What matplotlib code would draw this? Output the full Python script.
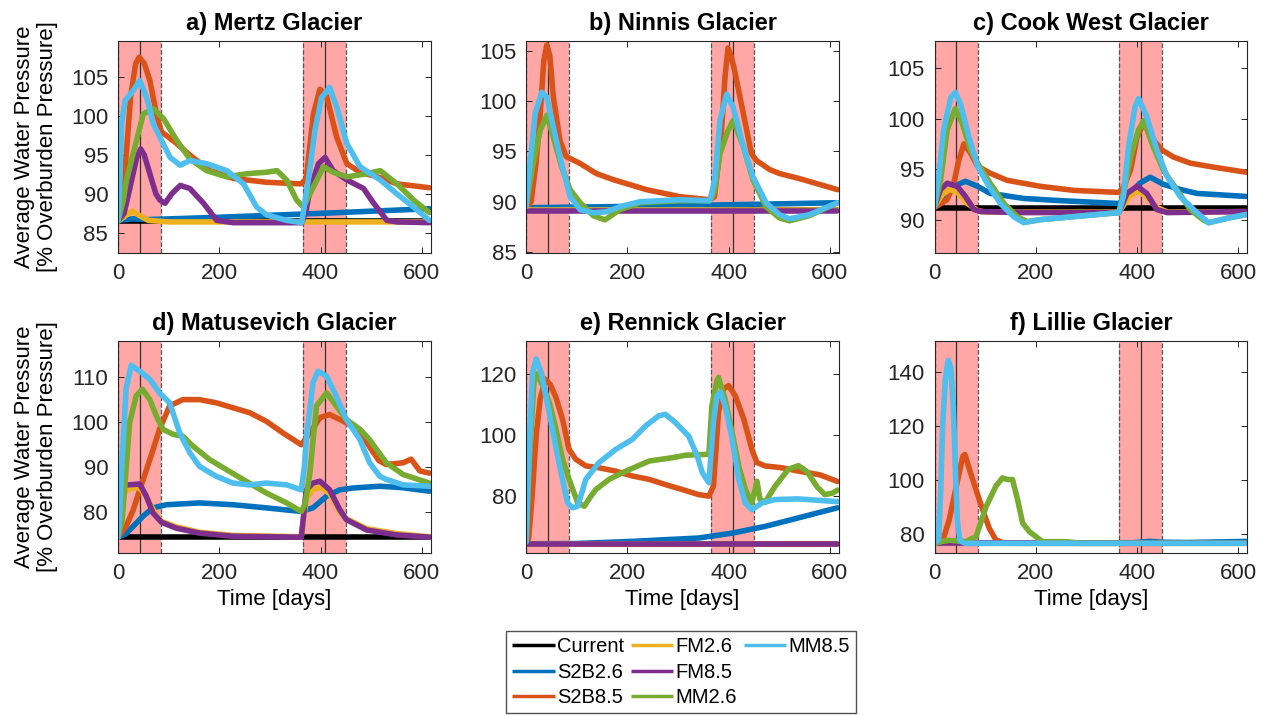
import matplotlib
matplotlib.use('Agg')
import matplotlib.pyplot as plt
from matplotlib.lines import Line2D

plt.rcParams['font.family'] = ['Liberation Sans', 'DejaVu Sans']

# ---------------------------------------------------------------
# Scenario names / colours (legend order)
# ---------------------------------------------------------------
scenarios = ['Current', 'S2B2.6', 'S2B8.5', 'FM2.6', 'FM8.5', 'MM2.6', 'MM8.5']
colors = ['#000000', '#0072BD', '#D95319', '#EDB120', '#7E2F8E', '#77AC30', '#4DBEEE']

# melt seasons (days) and their mid points
seasons = [(0, 85), (365, 450)]
season_mid = [43, 408]

# ---------------------------------------------------------------
# a) Mertz  -- (day, % overburden)
# ---------------------------------------------------------------
mertz_current = [(0, 86.5), (615, 86.5)]
mertz_s2b26 = [(0, 86.6), (30, 86.8), (60, 86.7), (200, 87.0), (400, 87.5), (615, 88.1)]
mertz_s2b85 = [(0, 86.5), (8, 88), (15, 94), (25, 102.5), (35, 106.8), (42, 107.6), (52, 106.8),
               (63, 104.6), (76, 100.3), (86, 98), (100, 97.3), (116, 96.5), (142, 95), (182, 93),
               (228, 92), (294, 91.5), (362, 91.3), (372, 92), (386, 100.3), (399, 103.5),
               (412, 102.6), (432, 97.3), (452, 93.9), (478, 92.8), (518, 92.1), (551, 91.3),
               (615, 90.8)]
mertz_fm26 = [(0, 86.5), (15, 87.2), (28, 87.8), (40, 87.3), (60, 86.6), (100, 86.4), (615, 86.4)]
mertz_fm85 = [(0, 86.5), (12, 87.5), (24, 90.9), (37, 94.7), (45, 95.8), (52, 95), (63, 92.6),
              (75, 90), (83, 89.2), (93, 88.8), (106, 90), (123, 91.1), (142, 90.7), (169, 88.8),
              (195, 86.6), (228, 86.3), (363, 86.3), (372, 88), (379, 90.5), (396, 93.9),
              (409, 94.7), (425, 93), (452, 91.8), (485, 90.7), (505, 88.8), (531, 86.6),
              (551, 86.4), (615, 86.3)]
mertz_mm26 = [(0, 86.5), (10, 89), (17, 91.8), (30, 95.2), (50, 100.3), (70, 101), (90, 99.7),
              (116, 96.9), (142, 94.5), (175, 93), (215, 92.2), (254, 92.6), (294, 92.8),
              (314, 93), (333, 91.8), (353, 89.2), (366, 88.3), (386, 90.9), (406, 93.5),
              (425, 92.8), (452, 92.2), (491, 92.6), (518, 93), (551, 91.3), (584, 89.2),
              (615, 87.6)]
mertz_mm85 = [(0, 86.5), (4, 92), (7, 99), (14, 102), (30, 103.3), (43, 104.6), (57, 102.4),
              (70, 99), (86, 96.9), (103, 94.7), (123, 93.7), (142, 94.3), (175, 93.9),
              (215, 93), (248, 91.3), (274, 88.3), (294, 87.3), (333, 86.6), (363, 86.3),
              (376, 91.8), (389, 98.2), (402, 102.4), (418, 103.7), (432, 101.2), (452, 96.5),
              (478, 93.5), (518, 91.8), (551, 90), (584, 88.3), (615, 86.6)]

# ---------------------------------------------------------------
# b) Ninnis
# ---------------------------------------------------------------
ninnis_current = [(0, 89.2), (615, 89.2)]
ninnis_s2b26 = [(0, 89.4), (300, 89.6), (615, 89.9)]
ninnis_s2b85 = [(0, 89.3), (10, 90), (20, 94), (28, 98.8), (35, 104), (41, 105.6), (47, 104.5),
                (54, 100.4), (67, 96.1), (79, 94.5), (87, 94.3), (107, 93.8), (139, 92.8),
                (172, 92.2), (238, 91.2), (304, 90.5), (363, 90.2), (372, 90.5), (380, 94),
                (386, 97.1), (393, 102.5), (399, 105.3), (405, 104.5), (412, 103), (429, 98.8),
                (445, 94.8), (455, 94.1), (481, 93.2), (501, 92.8), (540, 92.3), (615, 91.2)]
ninnis_fm26 = [(0, 89.2), (615, 89.2)]
ninnis_fm85 = [(0, 89.1), (615, 89.1)]
ninnis_mm26 = [(0, 89.5), (14, 93.8), (28, 97.1), (41, 98.6), (54, 96.4), (70, 93.5), (87, 91.2),
               (107, 89.9), (133, 88.6), (156, 88.2), (185, 89.2), (225, 89.9), (304, 90.1),
               (363, 90.1), (372, 91), (383, 94.8), (399, 97.1), (409, 98.1), (429, 95.5),
               (448, 92.2), (474, 89.5), (500, 88.4), (520, 88.1), (559, 88.6), (615, 89.9)]
ninnis_mm85 = [(0, 89.5), (8, 93.8), (18, 98.8), (31, 100.9), (41, 100.4), (54, 97.4), (70, 93.8),
               (87, 90.5), (107, 89.2), (133, 88.9), (159, 89), (185, 89.5), (225, 90),
               (304, 90.2), (363, 90.1), (373, 92.2), (383, 98.1), (396, 100.7), (409, 99.4),
               (429, 95.5), (448, 92.5), (474, 89.9), (501, 88.7), (520, 88.3), (559, 88.7),
               (615, 89.9)]

# ---------------------------------------------------------------
# c) Cook West
# ---------------------------------------------------------------
cook_current = [(0, 91.2), (615, 91.2)]
cook_s2b26 = [(0, 91.3), (22, 92), (38, 93.3), (61, 93.8), (85, 93.3), (110, 92.6), (176, 92.1),
              (242, 91.9), (364, 91.6), (387, 92.6), (405, 93.6), (426, 94.2), (452, 93.5),
              (485, 93), (518, 92.6), (615, 92.3)]
cook_s2b85 = [(0, 91.2), (25, 92), (38, 93.6), (48, 95.9), (58, 97.5), (71, 96.6), (85, 95.3),
              (110, 94.6), (143, 93.9), (209, 93.3), (275, 92.9), (364, 92.7), (373, 93.2),
              (387, 94.9), (400, 98.2), (413, 99.6), (432, 97.9), (449, 96.9), (472, 96.2),
              (505, 95.6), (551, 95.2), (615, 94.7)]
cook_fm26 = [(0, 91.3), (15, 92.5), (30, 93.0), (45, 92.7), (65, 91.6), (85, 90.9), (100, 90.75),
             (364, 90.75), (385, 92.3), (400, 92.8), (415, 92.4), (440, 91.2), (460, 90.75),
             (615, 90.8)]
cook_fm85 = [(0, 91.3), (12, 93), (25, 93.6), (45, 93.3), (61, 92.3), (78, 91), (91, 90.8),
             (176, 90.7), (364, 90.7), (380, 92.6), (400, 93.3), (419, 92.6), (439, 91),
             (459, 90.7), (615, 90.8)]
cook_mm26 = [(0, 91.3), (12, 93.9), (25, 98.9), (41, 101), (55, 99.5), (71, 96.9), (85, 95.6),
             (110, 93.6), (137, 91.6), (163, 90.3), (183, 89.8), (209, 90), (275, 90.3),
             (364, 90.7), (375, 93), (387, 96.2), (403, 98.9), (413, 99.8), (432, 97.2),
             (452, 94.9), (478, 93), (505, 91), (530, 90), (541, 89.7), (584, 90.2), (615, 90.5)]
cook_mm85 = [(0, 91.3), (9, 94.6), (18, 98.9), (32, 102.1), (41, 102.6), (51, 101.5), (68, 98.2),
             (85, 95.3), (104, 93.6), (130, 91.6), (156, 90.3), (176, 89.7), (209, 90),
             (275, 90.3), (364, 90.7), (373, 92.3), (383, 97.2), (396, 101.2), (403, 102),
             (419, 100.2), (439, 96.9), (459, 94.3), (485, 92.3), (518, 90.7), (541, 89.7),
             (584, 90.2), (615, 90.5)]

# ---------------------------------------------------------------
# d) Matusevich
# ---------------------------------------------------------------
matu_current = [(0, 74.5), (615, 74.5)]
matu_s2b26 = [(0, 74.5), (15, 75.2), (30, 76.9), (49, 79.1), (69, 81), (96, 81.7), (161, 82.1),
              (227, 81.7), (293, 81), (362, 80.2), (385, 81), (412, 83.6), (438, 85), (464, 85.4),
              (517, 85.8), (560, 85.5), (615, 84.7)]
matu_s2b85 = [(0, 74.5), (16, 76.9), (30, 80.5), (43, 85), (63, 91.7), (82, 98.4), (102, 103.6),
              (128, 105), (161, 105), (194, 104.3), (227, 103.2), (260, 102.1), (293, 100.2),
              (326, 97.6), (362, 95), (379, 97.6), (399, 101), (418, 101.7), (438, 100.6),
              (464, 99.1), (480, 97.5), (497, 94.5), (515, 91.5), (530, 90.6), (563, 91),
              (579, 91.8), (596, 89.2), (615, 88.7)]
matu_fm26 = [(0, 74.5), (5, 80), (12, 84.5), (25, 85.3), (40, 85.6), (50, 84.5), (63, 82),
             (75, 79.5), (86, 78), (115, 76.8), (161, 75.6), (227, 74.9), (362, 74.6), (372, 83),
             (385, 85), (399, 85.6), (418, 84.2), (438, 80), (451, 78.6), (491, 76.4), (550, 75.3),
             (615, 74.6)]
matu_fm85 = [(0, 74.5), (4, 80), (8, 86), (43, 86.3), (56, 83.6), (69, 79.9), (86, 77.8),
             (115, 76.5), (161, 75.4), (227, 74.7), (362, 74.5), (372, 85), (385, 86.5),
             (399, 86.9), (418, 85), (438, 80.6), (451, 78.4), (491, 76.1), (550, 75), (615, 74.5)]
matu_mm26 = [(0, 74.5), (8, 78), (13, 85), (23, 99.9), (36, 105.8), (48, 107.3), (63, 105),
             (76, 101.3), (89, 98.4), (109, 97.3), (128, 96.9), (148, 94.7), (181, 91.7),
             (214, 89.5), (247, 87.3), (293, 84.3), (333, 82.1), (362, 80.2), (370, 82),
             (379, 88.7), (392, 103.6), (412, 106.5), (431, 103.6), (451, 100.6), (478, 98.4),
             (497, 96.1), (530, 91), (563, 88.4), (615, 86.5)]
matu_mm85 = [(0, 74.5), (4, 80), (7, 88.7), (16, 107.3), (26, 112.6), (43, 111.3), (63, 109.5),
             (82, 106.5), (102, 104.3), (122, 97.6), (142, 93.2), (161, 90.2), (194, 88),
             (227, 86.5), (260, 86.1), (293, 86.5), (333, 86.1), (362, 85), (368, 90), (372, 96.1),
             (385, 108.7), (395, 111.3), (412, 110.2), (431, 105.8), (451, 100.6), (478, 96.1),
             (497, 91), (517, 88), (530, 87.3), (563, 86.1), (615, 85.8)]

# ---------------------------------------------------------------
# e) Rennick
# ---------------------------------------------------------------
renn_current = [(0, 64.4), (615, 64.4)]
renn_s2b26 = [(0, 64.4), (100, 64.5), (210, 65.2), (341, 66.3), (407, 67.9), (472, 70.1),
              (538, 72.9), (615, 76.2)]
renn_s2b85 = [(0, 64.4), (5, 66), (12, 80), (20, 100), (28, 112), (38, 118.3), (48, 116.5),
              (59, 112.3), (72, 105.2), (85, 95.3), (98, 92.1), (118, 89.9), (144, 89.3),
              (177, 88.2), (210, 86.6), (243, 85.5), (275, 83.8), (308, 82.2), (341, 80.5),
              (361, 80), (370, 83.3), (380, 107.4), (390, 115.1), (400, 116.2), (413, 112.9),
              (430, 105.2), (446, 95.3), (456, 91), (472, 89.9), (505, 89.3), (538, 88.2),
              (580, 87), (615, 84.8)]
renn_fm26 = [(0, 64.4), (615, 64.4)]
renn_fm85 = [(0, 64.4), (615, 64.4)]
renn_mm26 = [(0, 65), (7, 93.2), (16, 118.4), (21, 120), (33, 116.2), (46, 110.7), (59, 101.9),
             (72, 92.1), (85, 85.5), (102, 77.8), (115, 76.7), (128, 80), (138, 82.2), (164, 85.5),
             (197, 88.2), (243, 91.5), (289, 92.6), (315, 93.4), (361, 93.7), (367, 109.6),
             (377, 117.8), (380, 118.9), (393, 111.8), (407, 100.8), (420, 89.9), (433, 82.2),
             (446, 77.8), (456, 84.9), (462, 78.9), (472, 78), (492, 83.3), (518, 88.8),
             (538, 90), (555, 88), (575, 83), (590, 80.5), (605, 81), (615, 82)]
renn_mm85 = [(0, 65), (7, 98.6), (13, 120.5), (20, 124.9), (30, 120.5), (43, 109.6), (56, 98.6),
             (69, 87.7), (82, 77.8), (92, 76.2), (102, 76.7), (118, 85.5), (144, 91), (177, 95.3),
             (210, 98.6), (236, 103), (262, 106.3), (275, 106.8), (295, 104.1), (321, 99.7),
             (338, 93.2), (348, 87.7), (361, 84.4), (370, 104.1), (377, 112.9), (384, 114),
             (393, 109.6), (407, 98.6), (420, 85.5), (433, 77.8), (446, 75.6), (466, 77.8),
             (492, 78.9), (538, 79.1), (615, 78.2)]

# ---------------------------------------------------------------
# f) Lillie
# ---------------------------------------------------------------
lil_current = [(0, 76.5), (615, 76.5)]
lil_s2b26 = [(0, 76.5), (380, 76.5), (410, 77), (425, 77.2), (450, 76.9), (500, 76.8), (615, 77.2)]
lil_s2b85 = [(0, 76.5), (16, 77.5), (29, 85.2), (43, 97.7), (56, 108.9), (60, 109.5), (69, 103.9),
             (82, 96.4), (95, 89), (108, 82.1), (121, 77.8), (134, 76.8), (160, 76.5), (615, 76.5)]
lil_fm26 = [(0, 76.5), (615, 76.5)]
lil_fm85 = [(0, 76.5), (615, 76.5)]
lil_mm26 = [(0, 76.5), (15, 77.2), (30, 77.6), (50, 77.3), (62, 77.2), (82, 79), (102, 90.2),
            (121, 97.7), (134, 100.8), (144, 100.2), (154, 100.2), (164, 92.7), (174, 84),
            (187, 80.9), (200, 79), (213, 77.1), (259, 77.1), (292, 76.5), (615, 76.5)]
lil_mm85 = [(0, 76.5), (8, 78), (12, 95), (16, 120), (21, 137), (27, 144.5), (32, 142), (37, 128),
            (41, 105), (45, 85), (50, 77.5), (60, 76.5), (615, 76.5)]

panels = [
    ('a) Mertz Glacier', [mertz_current, mertz_s2b26, mertz_s2b85, mertz_fm26, mertz_fm85,
                          mertz_mm26, mertz_mm85], (82.4, 109.7), [85, 90, 95, 100, 105]),
    ('b) Ninnis Glacier', [ninnis_current, ninnis_s2b26, ninnis_s2b85, ninnis_fm26, ninnis_fm85,
                           ninnis_mm26, ninnis_mm85], (84.9, 106), [85, 90, 95, 100, 105]),
    ('c) Cook West Glacier', [cook_current, cook_s2b26, cook_s2b85, cook_fm26, cook_fm85,
                              cook_mm26, cook_mm85], (86.7, 107.7), [90, 95, 100, 105]),
    ('d) Matusevich Glacier', [matu_current, matu_s2b26, matu_s2b85, matu_fm26, matu_fm85,
                               matu_mm26, matu_mm85], (71, 118), [80, 90, 100, 110]),
    ('e) Rennick Glacier', [renn_current, renn_s2b26, renn_s2b85, renn_fm26, renn_fm85,
                            renn_mm26, renn_mm85], (61.4, 130.8), [80, 100, 120]),
    ('f) Lillie Glacier', [lil_current, lil_s2b26, lil_s2b85, lil_fm26, lil_fm85,
                           lil_mm26, lil_mm85], (72.9, 151.7), [80, 100, 120, 140]),
]

# ---------------------------------------------------------------
# Figure
# ---------------------------------------------------------------
fig = plt.figure(figsize=(12.67, 7.15), dpi=100)
lefts = [0.0931, 0.4152, 0.7376]
bottoms = [0.6462, 0.2266]
w, h = 0.2470, 0.2965
axis_col = '#262626'

for i, (title, series, ylim, yticks) in enumerate(panels):
    row, col = divmod(i, 3)
    ax = fig.add_axes([lefts[col], bottoms[row], w, h])

    for (s0, s1) in seasons:
        ax.axvspan(s0, s1, color='#FFA6A6', lw=0, zorder=0)
        ax.axvline(s0, color='#555555', ls='--', lw=0.9, zorder=1)
        ax.axvline(s1, color='#555555', ls='--', lw=0.9, zorder=1)
    for m in season_mid:
        ax.axvline(m, color='#333333', lw=0.9, zorder=1)

    for pts, c in zip(series, colors):
        d, v = zip(*pts)
        ax.plot(d, v, color=c, lw=4, solid_capstyle='round', solid_joinstyle='round', zorder=2)

    ax.set_xlim(0, 618)
    ax.set_ylim(*ylim)
    ax.set_xticks([0, 200, 400, 600])
    ax.set_yticks(yticks)
    ax.tick_params(direction='in', length=4, width=0.7, top=True, right=True,
                   labelsize=16, colors=axis_col, pad=7)
    for sp in ax.spines.values():
        sp.set_color(axis_col)
        sp.set_linewidth(0.8)
    ax.set_title(title, fontsize=17, fontweight='bold', pad=8)
    if col == 0:
        ax.set_ylabel('Average Water Pressure\n[% Overburden Pressure]', fontsize=16,
                      linespacing=1.15, labelpad=9)
    if row == 1:
        ax.set_xlabel('Time [days]', fontsize=16, labelpad=4)

# legend: 3 columns filled top-to-bottom, last column holds one entry
handles = [Line2D([], [], color=c, lw=2.5, solid_capstyle='butt') for c in colors]
labels = list(scenarios)
blank = Line2D([], [], color='none')
handles += [blank, blank]
labels += ['', '']
fig.legend(handles, labels, ncol=3, loc='upper center', bbox_to_anchor=(0.5375, 0.117),
           fontsize=14.5, frameon=True, fancybox=False, edgecolor='#262626',
           handlelength=2.1, handletextpad=0.1, columnspacing=0.35, labelspacing=0.32,
           borderpad=0.3, borderaxespad=0)

plt.savefig('out.png', dpi=100)
plt.close()
